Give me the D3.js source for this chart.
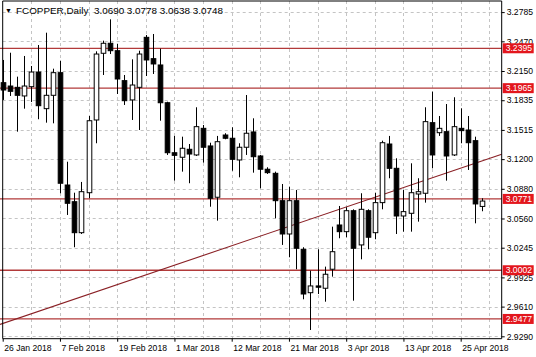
<!DOCTYPE html>
<html>
<head>
<meta charset="utf-8">
<script src="https://cdn.jsdelivr.net/npm/d3@7"></script>
<style>
  body{margin:0;background:#fff;}
  svg{display:block;font-family:"Liberation Sans",Arial,sans-serif;}
</style>
</head>
<body>
<svg width="536" height="357"></svg>
<script>
// daily candles, bar 0 = 26 Jan 2018
const open=[
  3.2024,3.1988,3.1974,3.1881,3.1981,3.2139,3.1744,3.1888,3.2132,3.0921,
  3.0741,3.0407,3.0838,3.1622,3.2341,3.2449,3.2369,3.2046,3.1838,3.1974,
  3.2513,3.2283,3.2215,3.1808,3.1269,3.1220,3.1306,3.1245,3.1532,3.1342,
  3.0789,3.1460,3.1425,3.1191,3.1328,3.1493,3.1234,3.1091,3.1047,3.0752,
  3.0393,3.0752,3.0228,2.9760,2.9833,2.9808,3.0013,3.0490,3.0418,3.0644,
  3.0275,3.0644,3.0407,3.0731,3.1363,3.1101,3.0587,3.0616,3.0824,3.0832,
  3.1593,3.1485,3.1496,3.1245,3.1532,3.1514,3.1399,3.0690];
const high=[
  3.2269,3.2347,3.2089,3.2312,3.2204,3.2430,3.2563,3.2175,3.2261,3.1172,
  3.0838,3.0954,3.1665,3.2362,3.2477,3.2707,3.2441,3.2107,3.2276,3.2369,
  3.2538,3.2549,3.2391,3.1819,3.1450,3.1442,3.1363,3.1759,3.1568,3.1377,
  3.1450,3.1479,3.1543,3.1371,3.1891,3.1640,3.1245,3.1112,3.1065,3.0932,
  3.0903,3.0867,3.0250,2.9998,3.0228,3.0041,3.0472,3.0695,3.0681,3.0659,
  3.0832,3.0659,3.0838,3.1399,3.1450,3.1209,3.0867,3.1155,3.0994,3.1759,
  3.1927,3.1665,3.1794,3.1867,3.1748,3.1665,3.1442,3.0778];
const low=[
  3.1838,3.1881,3.1496,3.1744,3.1816,3.1630,3.1593,3.1586,3.0832,3.0598,
  3.0250,3.0393,3.0778,3.1371,3.2107,3.2333,3.1902,3.1784,3.1622,3.1514,
  3.2096,3.2118,3.1614,3.1245,3.0968,3.1065,3.0940,3.1234,3.1162,3.0687,
  3.0537,3.1414,3.1075,3.1004,3.1245,3.1054,3.0886,3.1040,3.0562,3.0275,
  3.0142,3.0013,2.9689,2.9358,2.9746,2.9663,2.9933,3.0347,3.0358,2.9674,
  3.0120,3.0228,3.0336,3.0659,3.0994,3.0393,3.0418,3.0418,3.0526,3.0731,
  3.1101,3.1450,3.0968,3.1234,3.1371,3.1083,3.0508,3.0638];
const close=[
  3.1945,3.1931,3.1888,3.1988,3.2139,3.1776,3.1888,3.2132,3.0940,3.0724,
  3.0407,3.0849,3.1614,3.2333,3.2449,3.2369,3.2064,3.1830,3.1999,3.2333,
  3.2269,3.2226,3.1808,3.1269,3.1241,3.1317,3.1255,3.1550,3.1328,3.0778,
  3.1388,3.1425,3.1198,3.1328,3.1479,3.1226,3.1091,3.1054,3.0752,3.0393,
  3.0752,3.0239,2.9746,2.9833,2.9819,2.9959,3.0202,3.0418,3.0644,3.0239,
  3.0659,3.0358,3.0731,3.1377,3.1101,3.0587,3.0634,3.0838,3.0849,3.1604,
  3.1245,3.1532,3.1234,3.1550,3.1507,3.1377,3.0717,3.0748];

const dateTicks=[0,8,16,24,32,40,48,56,64];
const dateLabels=['26 Jan 2018','7 Feb 2018','19 Feb 2018','1 Mar 2018','12 Mar 2018','21 Mar 2018','3 Apr 2018','13 Apr 2018','25 Apr 2018'];
const priceTicks=[3.2785,3.2470,3.2150,3.1835,3.1515,3.1200,3.0880,3.0560,3.0245,2.9925,2.9610,2.9290];
const levels=[3.2395,3.1965,3.0771,3.0002,2.9477];
const trendIdx=[0,67];
const trendPrice=[2.9428,3.1182];

const svg=d3.select('svg');
const pL=2.7,pR=501.7,pT=1,pB=338.7;

const x=d3.scaleLinear().domain([0,67]).range([2.7,2.7+67*7.156]);
const y=d3.scaleLinear().domain([2.9290,3.2785]).range([336.3,12.1]);

// grid
const grid=svg.append('g').attr('stroke','#c4c4c4').attr('stroke-dasharray','3,3');
grid.selectAll('.hg').data(priceTicks).enter().append('line')
  .attr('x1',pL).attr('x2',pR)
  .attr('y1',d=>Math.round(y(d))+0.5).attr('y2',d=>Math.round(y(d))+0.5);
grid.selectAll('.vg').data(d3.range(4,69,4)).enter().append('line')
  .attr('y1',pT).attr('y2',pB)
  .attr('x1',d=>Math.round(x(d))+0.5).attr('x2',d=>Math.round(x(d))+0.5);

// horizontal levels
svg.selectAll('.lvl').data(levels).enter().append('line')
  .attr('x1',0).attr('x2',pR)
  .attr('y1',d=>y(d)).attr('y2',d=>y(d))
  .attr('stroke','#b23a3a').attr('stroke-width',1.3);

// trend line, extended over the plot
const tslope=(trendPrice[1]-trendPrice[0])/(trendIdx[1]-trendIdx[0]);
const i0=x.invert(0),i1=x.invert(pR);
svg.append('line')
  .attr('x1',0).attr('x2',pR)
  .attr('y1',y(trendPrice[0]+(i0-trendIdx[0])*tslope))
  .attr('y2',y(trendPrice[0]+(i1-trendIdx[0])*tslope))
  .attr('stroke','#8a2025').attr('stroke-width',1.1);

// candles
const idx=d3.range(open.length);
const bw=4.6;
svg.selectAll('.wick').data(idx).enter().append('line')
  .attr('x1',i=>Math.round(x(i))+0.5).attr('x2',i=>Math.round(x(i))+0.5)
  .attr('y1',i=>y(high[i])).attr('y2',i=>y(low[i]))
  .attr('stroke','#000').attr('stroke-width',1);
svg.selectAll('.body').data(idx).enter().append('rect')
  .attr('x',i=>Math.round(x(i))+0.5-bw/2)
  .attr('width',bw)
  .attr('y',i=>y(Math.max(open[i],close[i])))
  .attr('height',i=>Math.max(1,Math.abs(y(open[i])-y(close[i]))))
  .attr('fill',i=>close[i]>=open[i]?'#fff':'#000')
  .attr('stroke','#000').attr('stroke-width',1);

// border
svg.append('path')
  .attr('d',`M${pL},${pT}H${pR}V${pB}H${pL}Z`)
  .attr('fill','none').attr('stroke','#000').attr('stroke-width',1);

// price axis
const yAxis=svg.append('g').attr('transform',`translate(${pR},0)`)
  .call(d3.axisRight(y).tickValues(priceTicks).tickSize(3).tickPadding(2).tickFormat(d3.format('.4f')));
yAxis.select('.domain').remove();
yAxis.selectAll('text').attr('font-size','8.6px').attr('fill','#000').attr('font-family','"Liberation Sans",Arial,sans-serif');

// date axis
const xAxis=svg.append('g').attr('transform',`translate(0,${pB})`)
  .call(d3.axisBottom(x).tickValues(dateTicks).tickSize(3).tickPadding(3).tickFormat((d,k)=>dateLabels[k]));
xAxis.select('.domain').remove();
xAxis.selectAll('text').attr('text-anchor','start').attr('dx','1')
  .attr('font-size','8.6px').attr('fill','#000').attr('font-family','"Liberation Sans",Arial,sans-serif');

// level tags
const tags=svg.selectAll('.tag').data(levels).enter().append('g')
  .attr('transform',d=>`translate(${pR+1},${y(d)})`);
tags.append('rect').attr('x',0).attr('y',-5).attr('width',31).attr('height',10).attr('fill','#e3161d');
tags.append('text').attr('x',3).attr('y',3.2).attr('fill','#fff').attr('font-size','8.6px')
  .text(d=>d3.format('.4f')(d));

// title
svg.append('text').attr('x',5).attr('y',13).attr('font-size','7px').attr('fill','#000').text('▼');
svg.append('text').attr('x',16).attr('y',14).attr('font-size','9.9px').attr('fill','#000')
  .style('white-space','pre')
  .text('FCOPPER,Daily  3.0690 3.0778 3.0638 3.0748');
</script>
</body>
</html>
